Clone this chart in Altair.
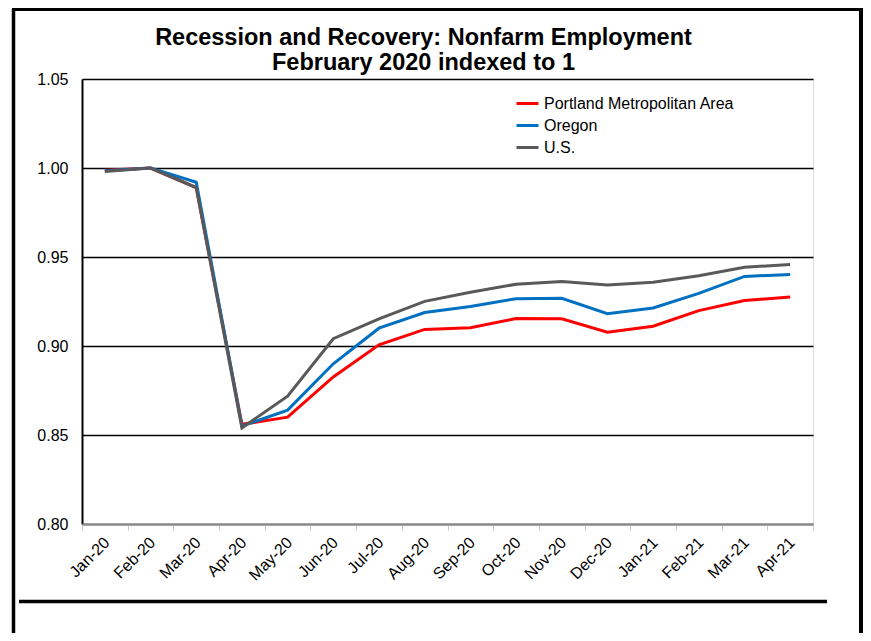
import altair as alt
import pandas as pd

months = ["Jan-20", "Feb-20", "Mar-20", "Apr-20", "May-20", "Jun-20", "Jul-20", "Aug-20",
          "Sep-20", "Oct-20", "Nov-20", "Dec-20", "Jan-21", "Feb-21", "Mar-21", "Apr-21"]
portland = [0.9988, 1.000, 0.989, 0.856, 0.860, 0.8826, 0.9007, 0.9093,
            0.9102, 0.9154, 0.9153, 0.9078, 0.9111, 0.9199, 0.9255, 0.9275]
oregon = [0.9985, 1.000, 0.992, 0.855, 0.864, 0.890, 0.910, 0.9188,
          0.9222, 0.9266, 0.9268, 0.9181, 0.9214, 0.9296, 0.9391, 0.9402]
us = [0.998, 1.000, 0.989, 0.854, 0.8718, 0.9041, 0.9153, 0.9251,
      0.9302, 0.9347, 0.9362, 0.9343, 0.9358, 0.9395, 0.9442, 0.9458]
series = ["Portland Metropolitan Area", "Oregon", "U.S."]
colors = ["#FF0000", "#0070C0", "#595959"]

rows = []
for name, vals in zip(series, [portland, oregon, us]):
    for m, v in zip(months, vals):
        rows.append({"Month": m, "Series": name, "Value": v, "Order": series.index(name)})
df = pd.DataFrame(rows)

FONT = "Arial, Liberation Sans"

lines = alt.Chart(df).mark_line(strokeWidth=3, clip=False).encode(
    x=alt.X("Month:N", sort=months, bandPosition=0.5,
            scale=alt.Scale(type="band", paddingInner=0, paddingOuter=0),
            axis=alt.Axis(title=None, labelAngle=-45, labelAlign="right", labelBaseline="top",
                          labelPadding=4, labelOffset=-4, labelFontSize=16, labelFont=FONT,
                          labelColor="#000000",
                          tickBand="extent", tickColor="#c8c8c8", tickSize=6, tickWidth=1,
                          domainColor="#8a8a8a", domainWidth=2, grid=False, zindex=1)),
    y=alt.Y("Value:Q", scale=alt.Scale(domain=[0.80, 1.05], nice=False, zero=False),
            axis=alt.Axis(title=None, values=[0.80, 0.85, 0.90, 0.95, 1.00, 1.05], format=".2f",
                          labelFontSize=16, labelFont=FONT, labelColor="#000000", labelPadding=14,
                          ticks=False, tickSize=0, domainColor="#000000", domainWidth=2,
                          grid=True, gridColor="#000000", gridWidth=1.6)),
    color=alt.Color("Series:N", scale=alt.Scale(domain=series, range=colors),
                    legend=alt.Legend(title=None, orient="none", legendX=433, legendY=12,
                                      symbolType="stroke", symbolSize=484, symbolStrokeWidth=3,
                                      labelFontSize=16, labelFont=FONT, labelColor="#000000",
                                      labelOffset=4, rowPadding=1, labelLimit=400)),
    order=alt.Order("Order:Q"),
)

frame_df = pd.DataFrame({"k": [0]})
frame = alt.Chart(frame_df)
left_line = frame.mark_rule(color="#000000", strokeWidth=3.5, clip=False).encode(
    x=alt.value(-68.5), y=alt.value(-70), y2=alt.value(560))
top_line = frame.mark_rule(color="#000000", strokeWidth=4, clip=False).encode(
    x=alt.value(-70), x2=alt.value(781), y=alt.value(-70))
right_line = frame.mark_rule(color="#000000", strokeWidth=4, clip=False).encode(
    x=alt.value(779), y=alt.value(-72), y2=alt.value(560))
bottom_line = frame.mark_rule(color="#000000", strokeWidth=3.5, clip=False).encode(
    x=alt.value(-63), x2=alt.value(745), y=alt.value(522.5))

chart = alt.layer(lines, left_line, top_line, right_line, bottom_line).properties(
    width=731, height=445,
    autosize=alt.AutoSizeParams(type="none"),
    padding={"left": 74, "top": 71, "right": 50, "bottom": 109},
    title=alt.TitleParams(["Recession and Recovery: Nonfarm Employment", "February 2020 indexed to 1"],
                          fontSize=23.5, fontWeight="bold", font=FONT, color="#000000",
                          anchor="middle", dx=-24, lineHeight=25, offset=-69),
).configure_view(stroke="#000000", strokeWidth=1.6).configure(background="#ffffff")

chart.save("out.html", embed_options={"renderer": "svg", "actions": False})
